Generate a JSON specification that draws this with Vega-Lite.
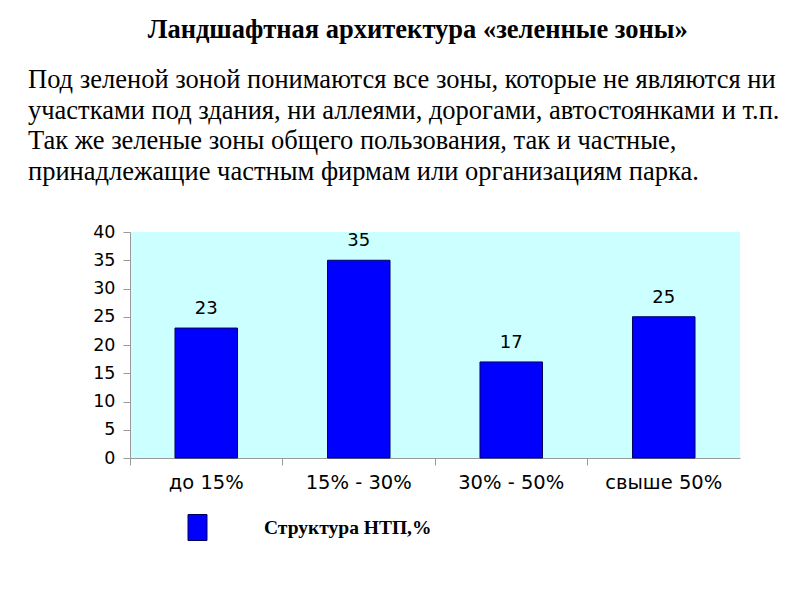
{
  "$schema": "https://vega.github.io/schema/vega-lite/v6.json",
  "background": "#FFFFFF",
  "padding": {"left": 28, "top": 16, "right": 5, "bottom": 5},
  "title": {
    "text": "Ландшафтная архитектура «зеленные зоны»",
    "font": "Liberation Serif",
    "fontSize": 26.5,
    "fontWeight": "bold",
    "color": "#000000",
    "anchor": "middle",
    "dx": 14,
    "offset": 24
  },
  "datasets": {
    "ntp": [
      {"category": "до 15%", "value": 23, "series": "Структура НТП,%"},
      {"category": "15% - 30%", "value": 35, "series": "Структура НТП,%"},
      {"category": "30% - 50%", "value": 17, "series": "Структура НТП,%"},
      {"category": "свыше 50%", "value": 25, "series": "Структура НТП,%"}
    ]
  },
  "vconcat": [
    {
      "title": {
        "text": [
          "Под зеленой зоной понимаются все зоны, которые не являются ни",
          "участками под здания, ни аллеями, дорогами, автостоянками и т.п.",
          "Так же зеленые зоны общего пользования, так и частные,",
          "принадлежащие частным фирмам или организациям парка."
        ],
        "font": "Liberation Serif",
        "fontSize": 26.5,
        "fontWeight": "normal",
        "lineHeight": 30.5,
        "color": "#000000",
        "anchor": "start",
        "frame": "group",
        "dx": -102,
        "offset": 38
      },
      "width": 610,
      "height": 226,
      "data": {"name": "ntp"},
      "encoding": {
        "x": {
          "field": "category",
          "type": "nominal",
          "sort": null,
          "scale": {"paddingInner": 0, "paddingOuter": 0},
          "axis": {
            "title": null,
            "labelAngle": 0,
            "labelFont": "DejaVu Sans",
            "labelFontSize": 19.5,
            "labelColor": "#000000",
            "labelPadding": 8,
            "labelLimit": 300,
            "bandPosition": 0,
            "tickSize": 7,
            "tickColor": "#999999",
            "domainColor": "#999999"
          }
        },
        "y": {
          "field": "value",
          "type": "quantitative",
          "scale": {"domain": [0, 40]},
          "axis": {
            "title": null,
            "values": [0, 5, 10, 15, 20, 25, 30, 35, 40],
            "grid": false,
            "labelFont": "DejaVu Sans",
            "labelFontSize": 17.5,
            "labelColor": "#000000",
            "labelPadding": 8,
            "tickSize": 7,
            "tickColor": "#999999",
            "domainColor": "#999999"
          }
        }
      },
      "layer": [
        {
          "mark": {
            "type": "bar",
            "width": {"band": 0.41},
            "stroke": "#000060",
            "strokeWidth": 1
          },
          "encoding": {
            "color": {
              "field": "series",
              "type": "nominal",
              "scale": {"range": ["#0000FF"]},
              "legend": {
                "title": null,
                "orient": "none",
                "legendX": 54,
                "legendY": 282,
                "symbolType": "M-0.73,-1H0.73V1H-0.73Z",
                "symbolSize": 676,
                "symbolOpacity": 1,
                "symbolStrokeColor": "#000060",
                "symbolStrokeWidth": 1,
                "labelFont": "Liberation Serif",
                "labelFontSize": 19.5,
                "labelFontWeight": "bold",
                "labelColor": "#000000",
                "labelOffset": 53,
                "labelLimit": 400
              }
            }
          }
        },
        {
          "mark": {
            "type": "text",
            "baseline": "bottom",
            "dy": -10,
            "font": "DejaVu Sans",
            "fontSize": 18,
            "color": "#000000"
          },
          "encoding": {
            "text": {"field": "value", "type": "quantitative"}
          }
        }
      ]
    }
  ],
  "config": {
    "view": {"fill": "#CCFFFF", "stroke": null}
  }
}
